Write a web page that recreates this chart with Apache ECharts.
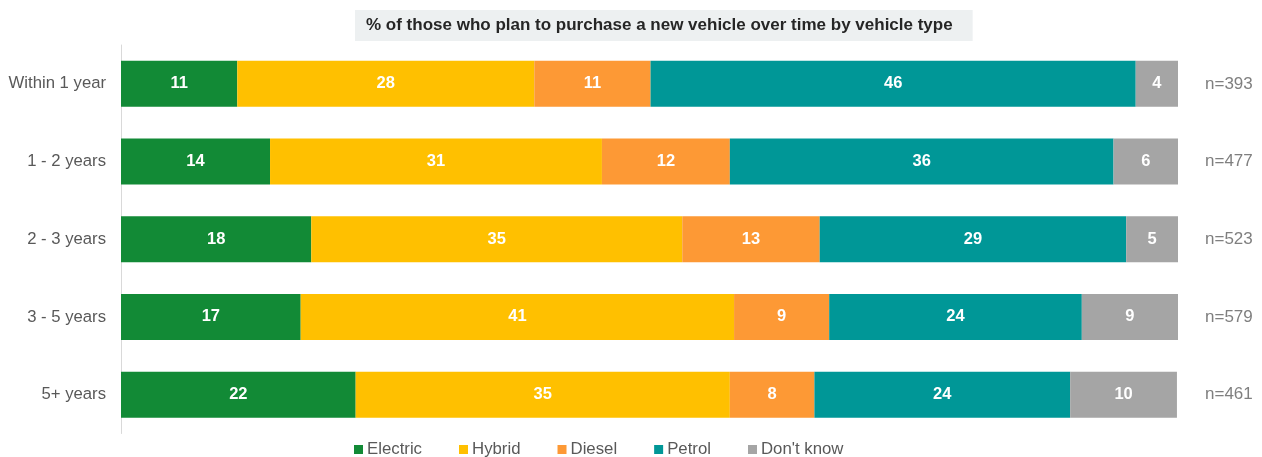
<!DOCTYPE html>
<html>
<head>
<meta charset="utf-8">
<script src="https://cdn.jsdelivr.net/npm/echarts@6/dist/echarts.min.js"></script>
<style>html,body{margin:0;padding:0;background:#fff;}#c{width:1262px;height:457px;}</style>
</head>
<body>
<div id="c"></div>
<script>
const categories = ['Within 1 year', '1 - 2 years', '2 - 3 years', '3 - 5 years', '5+ years'];
const sampleSizes = ['n=393', 'n=477', 'n=523', 'n=579', 'n=461'];
const seriesNames = ['Electric', 'Hybrid', 'Diesel', 'Petrol', "Don't know"];
const electric = [11.0, 14.1, 18.0, 17.0, 22.2];
const hybrid   = [28.1, 31.4, 35.1, 41.0, 35.4];
const diesel   = [11.0, 12.1, 13.0, 9.0, 8.0];
const petrol   = [45.9, 36.3, 29.0, 23.9, 24.2];
const dontKnow = [4.0, 6.1, 5.0, 9.1, 10.1];
const colors = ['#128a36', '#ffc000', '#fd9935', '#009797', '#a5a5a5'];

const values = [electric, hybrid, diesel, petrol, dontKnow];
const FONT = 'Liberation Sans, Arial, sans-serif';
const chart = echarts.init(document.getElementById('c'));
chart.setOption({
  animation: false,
  title: {
    text: '% of those who plan to purchase a new vehicle over time by vehicle type',
    left: 355, top: 10,
    padding: [7, 20, 7, 11],
    backgroundColor: '#edf0f1',
    textStyle: { fontFamily: FONT, fontSize: 17, fontWeight: 'bold', color: '#262626', lineHeight: 17 }
  },
  legend: {
    left: 349, top: 436,
    itemWidth: 9, itemHeight: 9, itemGap: 37,
    icon: 'rect',
    textStyle: { fontFamily: FONT, fontSize: 16.8, color: '#595959', padding: [0, 0, 0, -1] },
    data: seriesNames
  },
  grid: { left: 121, right: 84, top: 45, bottom: 23.5, containLabel: false },
  xAxis: {
    type: 'value', min: 0, max: 100,
    show: false
  },
  yAxis: [{
    type: 'category', data: categories, inverse: true,
    axisLine: { show: true, lineStyle: { color: '#d9d9d9', width: 1 } },
    axisTick: { show: false },
    axisLabel: { fontFamily: FONT, fontSize: 16.7, color: '#595959', margin: 15 }
  }, {
    type: 'category', data: sampleSizes, inverse: true, position: 'right',
    axisLine: { show: false }, axisTick: { show: false },
    axisLabel: { fontFamily: FONT, fontSize: 17, color: '#7f7f7f', margin: 27 }
  }],
  series: seriesNames.map((name, i) => ({
    name: name, type: 'bar', stack: 'total', barWidth: 46,
    data: values[i],
    itemStyle: { color: colors[i] },
    label: {
      show: true, position: 'inside',
      fontFamily: FONT, fontSize: 16.5, fontWeight: 'bold', color: '#ffffff',
      formatter: p => Math.round(p.value)
    }
  }))
});
</script>
</body>
</html>
